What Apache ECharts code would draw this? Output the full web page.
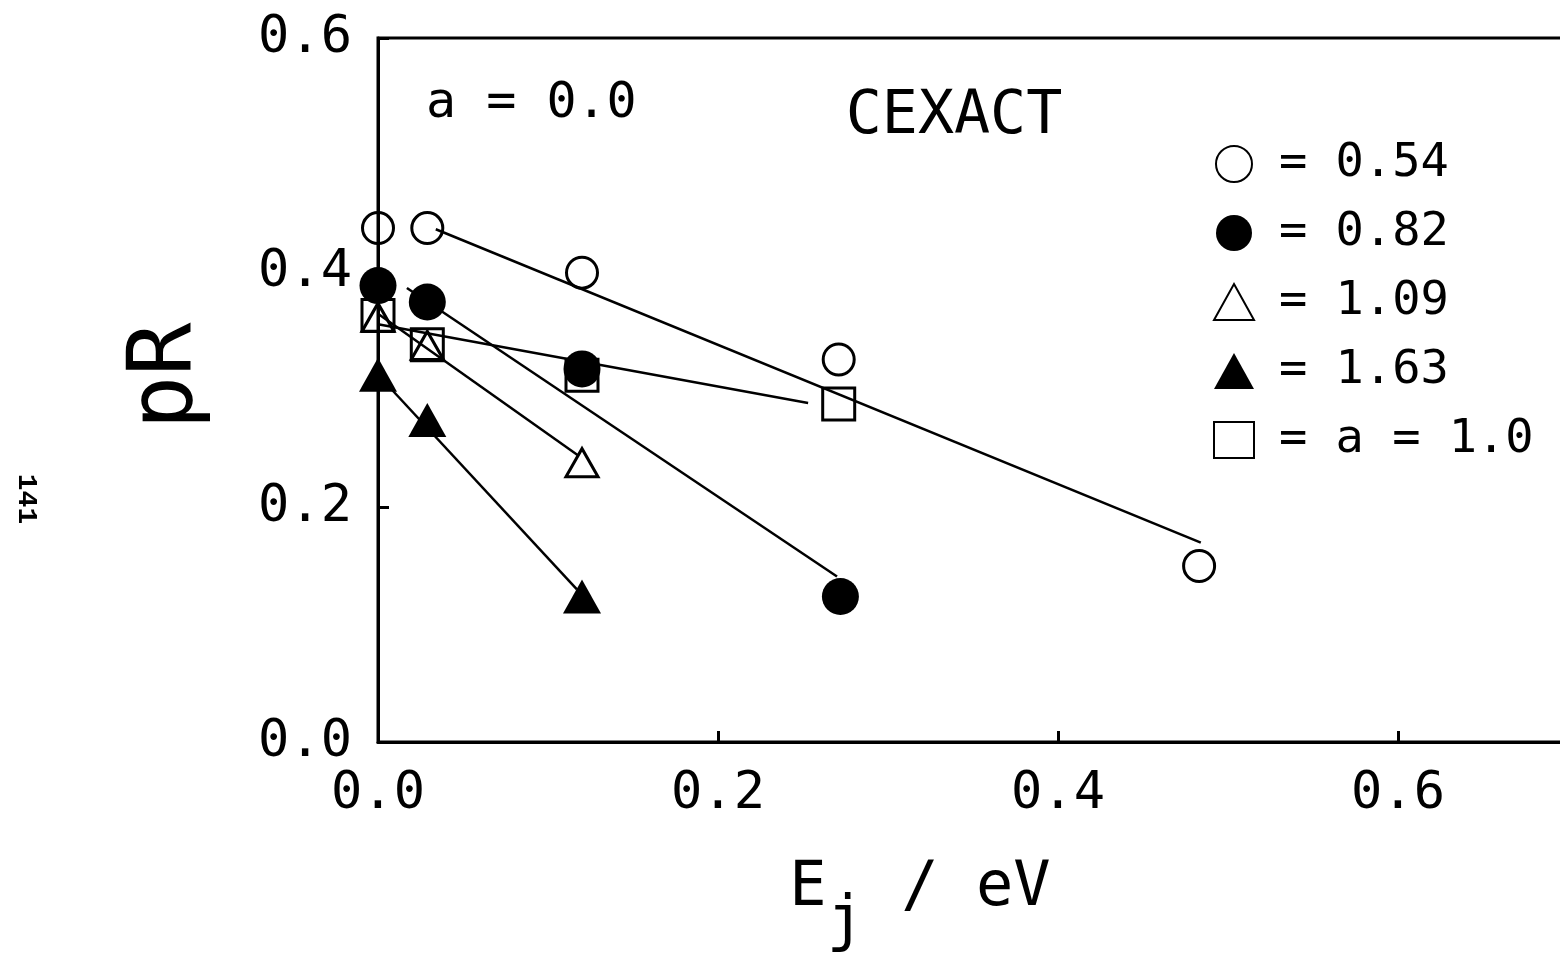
<!DOCTYPE html>
<html><head><meta charset="utf-8">
<script src="https://cdn.jsdelivr.net/npm/echarts@6/dist/echarts.min.js"></script>
<style>html,body{margin:0;padding:0;background:#fff}#c{width:1560px;height:963px}</style>
</head><body><div id="c"></div>
<script>
// ---- data ----
const xTickLabels = ['0.0', '0.2', '0.4', '0.6'];
const yTickLabels = ['0.0', '0.2', '0.4', '0.6'];
const legendNames = ['0.54', '0.82', '1.09', '1.63', 'a = 1.0'];
// measured points [E_j (eV), pR]
const pts054 = [[0, 0.438], [0.029, 0.438], [0.120, 0.400], [0.271, 0.326], [0.483, 0.150]];
const pts082 = [[0, 0.389], [0.029, 0.375], [0.120, 0.318], [0.272, 0.124]];
const pts109 = [[0, 0.362], [0.029, 0.338], [0.120, 0.238]];
const pts163 = [[0, 0.313], [0.029, 0.2745], [0.120, 0.124]];
const ptsA10 = [[0, 0.3635], [0.029, 0.3385], [0.120, 0.3125], [0.271, 0.288]];
// fitted straight lines [start, end]
const fit054 = [[0.034, 0.437], [0.484, 0.170]];
const fit082 = [[0.017, 0.387], [0.270, 0.141]];
const fit109 = [[0, 0.365], [0.118, 0.244]];
const fit163 = [[0, 0.313], [0.117, 0.130]];
const fitA10 = [[0, 0.356], [0.253, 0.289]];

const FONT = 'DejaVu Sans Mono';
const chart = echarts.init(document.getElementById('c'), null, {renderer: 'canvas'});

function fitLine(name, data) {
  return {
    name: name, type: 'line', data: data, showSymbol: false, symbol: 'none',
    lineStyle: {color: '#000', width: 2.5, opacity: 1}, z: 2, silent: true
  };
}
function markers(name, data, symbol, size, filled) {
  return {
    name: name, type: 'scatter', data: data, symbol: symbol, symbolSize: size, z: 5,
    itemStyle: filled ? {color: '#000', borderWidth: 0, opacity: 1}
                      : {color: 'rgba(255,255,255,0)', borderColor: '#000', borderWidth: 3, opacity: 1}
  };
}

chart.setOption({
  backgroundColor: '#fff',
  animation: false,
  grid: {left: 378, top: 38, right: -8, bottom: 221, show: true, borderColor: '#000', borderWidth: 3, containLabel: false, outerBoundsMode: 'none'},
  xAxis: {
    type: 'value', min: 0, max: 0.7, interval: 0.2,
    axisLine: {lineStyle: {color: '#000', width: 3}},
    axisTick: {inside: true, length: 11, lineStyle: {color: '#000', width: 3}},
    splitLine: {show: false},
    axisLabel: {
      showMaxLabel: false, margin: 26, color: '#000', fontFamily: FONT, fontSize: 52,
      formatter: function (v) { const i = Math.round(v / 0.2); return Math.abs(v - i * 0.2) < 1e-6 ? xTickLabels[i] : ''; }
    },
    name: '{e|E}{j|j}{e| / eV}', nameLocation: 'middle', nameGap: 116,
    nameTextStyle: {
      color: '#000', fontFamily: FONT, fontSize: 62, padding: [0, 106, 0, 0],
      rich: {
        e: {fontFamily: FONT, fontSize: 62, color: '#000', verticalAlign: 'bottom', padding: [0, 0, 34, 0]},
        j: {fontFamily: FONT, fontSize: 62, color: '#000', verticalAlign: 'bottom'}
      }
    }
  },
  yAxis: {
    type: 'value', min: 0, max: 0.6, interval: 0.2,
    axisLine: {lineStyle: {color: '#000', width: 3}},
    axisTick: {inside: true, length: 11, lineStyle: {color: '#000', width: 3}},
    splitLine: {show: false},
    axisLabel: {
      margin: 26, color: '#000', fontFamily: FONT, fontSize: 52,
      formatter: function (v) { const i = Math.round(v / 0.2); return yTickLabels[i]; }
    },
    name: 'pR', nameLocation: 'middle', nameGap: 166,
    nameTextStyle: {color: '#000', fontFamily: FONT, fontSize: 89, padding: [0, 0, 0, 28]}
  },
  legend: {
    data: legendNames, orient: 'vertical', left: 1208, top: 134,
    itemWidth: 40, itemHeight: 36, itemGap: 19,
    formatter: function (n) { return '= ' + n; },
    textStyle: {color: '#000', fontFamily: FONT, fontSize: 47, lineHeight: 50, padding: [0, 0, 0, 20]}
  },
  graphic: [
    {type: 'text', x: 426, y: 104, style: {text: 'a = 0.0', fill: '#000', font: '50px "DejaVu Sans Mono"', align: 'left', verticalAlign: 'middle', textAlign: 'left', textVerticalAlign: 'middle'}},
    {type: 'text', x: 954, y: 117, style: {text: 'CEXACT', fill: '#000', font: '60px "DejaVu Sans Mono"', align: 'center', verticalAlign: 'middle', textAlign: 'center', textVerticalAlign: 'middle'}},
    {type: 'text', x: 26, y: 499, rotation: -Math.PI / 2, style: {text: '141', fill: '#000', font: 'bold 28px "Liberation Mono"', align: 'center', verticalAlign: 'middle', textAlign: 'center', textVerticalAlign: 'middle'}}
  ],
  series: [
    fitLine('fit 0.54', fit054),
    fitLine('fit 0.82', fit082),
    fitLine('fit 1.09', fit109),
    fitLine('fit 1.63', fit163),
    fitLine('fit a = 1.0', fitA10),
    markers('a = 1.0', ptsA10, 'rect', 32, false),
    markers('1.09', pts109, 'triangle', [32, 28], false),
    markers('1.63', pts163, 'triangle', [38, 34], true),
    markers('0.54', pts054, 'circle', 31, false),
    markers('0.82', pts082, 'circle', 37, true)
  ]
});
</script></body></html>
